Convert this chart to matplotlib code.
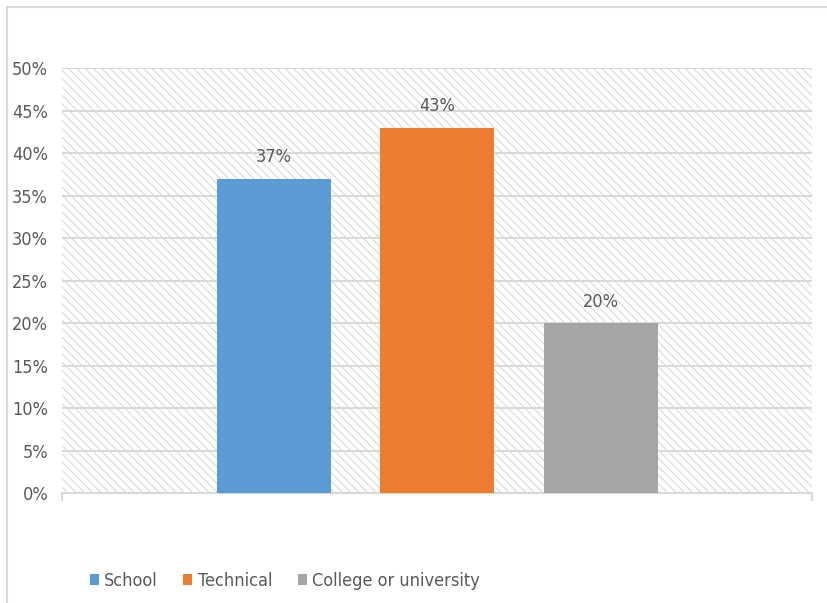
import matplotlib.pyplot as plt
from matplotlib.patches import Rectangle
import numpy as np

# Datos del grafico
series = ["School", "Technical", "College or university"]
valores = [37, 43, 20]
colores = ["#5b9bd5", "#ed7d31", "#a5a5a5"]
yticks = [0, 5, 10, 15, 20, 25, 30, 35, 40, 45, 50]

plt.rcParams['font.family'] = ['DejaVu Sans']
plt.rcParams['font.stretch'] = 'condensed'
plt.rcParams['hatch.linewidth'] = 0.8
gris = "#595959"
linea = "#d9d9d9"

fig = plt.figure(figsize=(8.27, 6.03), dpi=100)
ax = fig.add_axes([0.075, 0.1824, 0.907, 0.7048])

# Fondo rayado del area de trazado
fondo = Rectangle((0, 0), 1, 1, transform=ax.transAxes, facecolor="white",
                  edgecolor=linea, hatch="\\\\\\\\", linewidth=0, zorder=0)
ax.add_patch(fondo)
ax.set_facecolor("none")

ancho = 0.152
desp = [-0.218, 0.0, 0.218]
for i in range(len(series)):
    b = ax.bar(desp[i], valores[i], width=ancho, color=colores[i],
               label=series[i], zorder=3)
    ax.annotate("{}%".format(valores[i]), (desp[i], valores[i]),
                xytext=(0, 9), textcoords="offset points", ha="center",
                va="bottom", fontsize=13, color=gris)

ax.set_xlim(-0.5, 0.5)
ax.set_ylim(0, 50)
ax.set_yticks(yticks)
ax.set_yticklabels(["{}%".format(v) for v in yticks])
ax.yaxis.grid(True, color=linea, linewidth=1.5, zorder=1)
ax.set_axisbelow(True)
ax.tick_params(axis="y", length=0, pad=10, labelsize=13, labelcolor=gris)
ax.set_xticks([-0.5, 0.5])
ax.set_xticklabels(["", ""])
ax.tick_params(axis="x", length=6, width=1.5, color=linea)
for s in ["top", "right", "left"]:
    ax.spines[s].set_visible(False)
ax.spines["bottom"].set_color(linea)
ax.spines["bottom"].set_linewidth(1.5)

# Marco de la figura
fig.patches.append(Rectangle((0.008, -0.01), 1.1, 0.998, transform=fig.transFigure,
                             fill=False, edgecolor=linea, linewidth=1.5))

fig.legend(loc="lower left", bbox_to_anchor=(0.089, -0.005), ncol=3, frameon=False,
           fontsize=13, labelcolor=gris, handlelength=0.5, handleheight=0.5,
           handletextpad=0.3, columnspacing=1.4)

plt.savefig("out.png")
